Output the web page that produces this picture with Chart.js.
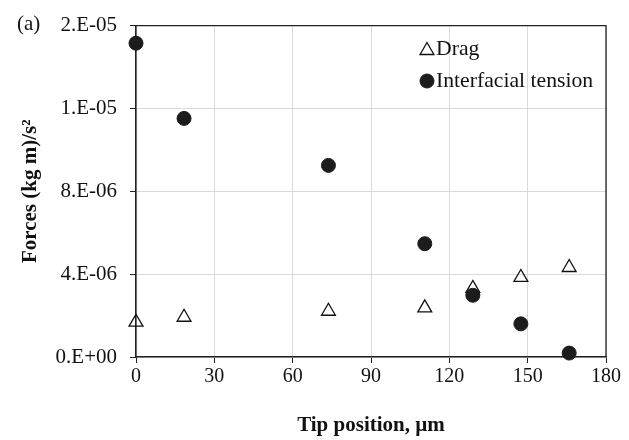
<!DOCTYPE html>
<html>
<head>
<meta charset="utf-8">
<script src="https://cdn.jsdelivr.net/npm/chart.js@4.4.1/dist/chart.umd.min.js"></script>
<style>
  body { margin: 0; background: #fff; }
  canvas { display: block; }
</style>
</head>
<body>
<canvas id="myChart" width="629" height="440"></canvas>
<script>
// data
var tip_position = [0, 18.4, 73.7, 110.6, 129, 147.4, 165.9]
var drag_force = [1.68e-6, 1.92e-6, 2.21e-6, 2.37e-6, 3.31e-6, 3.84e-6, 4.32e-6]
var tension_force = [15.15e-6, 11.52e-6, 9.25e-6, 5.47e-6, 2.98e-6, 1.60e-6, 0.19e-6]
var series_names = ['Drag', 'Interfacial tension']
var y_tick_labels = ['0.E+00', '4.E-06', '8.E-06', '1.E-05', '2.E-05']

var serif = "'Liberation Serif', 'Times New Roman', serif"

function to_points(xs, ys) {
    var pts = []
    for (let i = 0; i < xs.length; i++) {
        pts.push({x: xs[i], y: ys[i]})
    }
    return pts
}

// frame, panel label and legend drawn by hand
const extras = {
    id: 'extras',
    beforeDatasetsDraw(chart) {
        const ctx = chart.ctx
        const a = chart.chartArea
        ctx.save()
        ctx.strokeStyle = '#222'
        ctx.lineWidth = 1.3
        ctx.beginPath()
        ctx.moveTo(a.left, a.top)
        ctx.lineTo(a.right, a.top)
        ctx.lineTo(a.right, a.bottom)
        ctx.stroke()
        ctx.restore()
    },
    afterDraw(chart) {
        const ctx = chart.ctx
        ctx.save()
        ctx.fillStyle = '#111'
        ctx.font = '21px ' + serif
        ctx.textBaseline = 'middle'
        ctx.textAlign = 'left'
        ctx.fillText('(a)', 17, 24)

        // legend
        ctx.font = '21.7px ' + serif
        var rows = [
            {ds: chart.data.datasets[0], y: 49},
            {ds: chart.data.datasets[1], y: 81}
        ]
        rows.forEach(function (r) {
            ctx.fillStyle = r.ds.backgroundColor
            ctx.strokeStyle = r.ds.borderColor
            ctx.lineWidth = r.ds.borderWidth
            Chart.helpers.drawPoint(ctx, {
                pointStyle: r.ds.pointStyle,
                radius: r.ds.pointRadius,
                borderWidth: r.ds.borderWidth,
                rotation: 0
            }, 427, r.y + (r.ds.pointStyle === 'triangle' ? 1.5 : 0))
            ctx.fillStyle = '#111'
            ctx.fillText(r.ds.label, 436, r.y)
        })
        ctx.restore()
    }
}

const ctx = document.getElementById('myChart')

new Chart(ctx, {
    type: 'scatter',
    data: {
        datasets: [{
            label: series_names[0],
            data: to_points(tip_position, drag_force),
            pointStyle: 'triangle',
            pointRadius: 8,
            backgroundColor: 'rgba(255,255,255,0)',
            borderColor: '#111',
            borderWidth: 1.3,
            order: 1,
            clip: false
        }, {
            label: series_names[1],
            data: to_points(tip_position, tension_force),
            pointStyle: 'circle',
            pointRadius: 7,
            backgroundColor: '#1c1c1c',
            borderColor: '#1c1c1c',
            borderWidth: 1,
            order: 0,
            clip: false
        }]
    },
    options: {
        responsive: false,
        animation: false,
        events: [],
        layout: {
            padding: {top: 23, right: 23, left: 0, bottom: 0}
        },
        plugins: {
            legend: {display: false},
            tooltip: {enabled: false}
        },
        scales: {
            x: {
                type: 'linear',
                min: 0,
                max: 180,
                afterFit: function (scale) { scale.height = 83 },
                ticks: {
                    stepSize: 30,
                    padding: 2,
                    color: '#111',
                    font: {family: serif, size: 20}
                },
                grid: {
                    color: '#d9d9d9',
                    lineWidth: 1,
                    tickColor: '#222',
                    tickLength: 6
                },
                border: {color: '#222', width: 1.6},
                title: {
                    display: true,
                    text: 'Tip position, µm',
                    color: '#111',
                    font: {family: serif, size: 21, weight: 'bold'},
                    padding: {top: 0, bottom: 2}
                }
            },
            y: {
                type: 'linear',
                min: 0,
                max: 1.6e-5,
                afterFit: function (scale) { scale.width = 136 },
                ticks: {
                    stepSize: 4e-6,
                    padding: 13,
                    color: '#111',
                    font: {family: serif, size: 21},
                    callback: function (v, i) { return y_tick_labels[i] }
                },
                grid: {
                    color: '#d9d9d9',
                    lineWidth: 1,
                    tickColor: '#222',
                    tickLength: 6
                },
                border: {color: '#222', width: 1.6},
                title: {
                    display: true,
                    text: 'Forces (kg m)/s²',
                    color: '#111',
                    font: {family: serif, size: 21, weight: 'bold'},
                    padding: {top: 18, bottom: 0}
                }
            }
        }
    },
    plugins: [extras]
})
</script>
</body>
</html>
